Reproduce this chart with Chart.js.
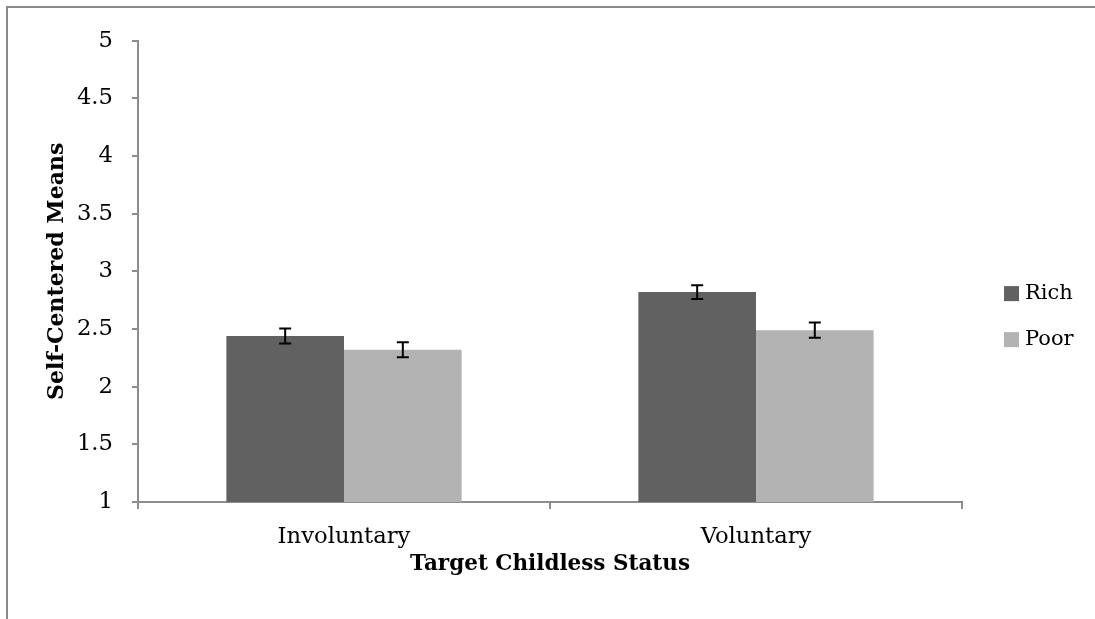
<!DOCTYPE html>
<html>
<head>
<meta charset="utf-8">
<script src="https://cdn.jsdelivr.net/npm/chart.js@4/dist/chart.umd.min.js"></script>
<style>
  html, body { margin: 0; padding: 0; background: #fff; width: 1095px; height: 619px; overflow: hidden; }
  #frame { position: absolute; left: 6px; top: 6px; border-left: 2px solid #8a8a8a; border-top: 2px solid #8a8a8a; }
  canvas { display: block; }
</style>
</head>
<body>
<div id="frame"><canvas id="chart" width="1087" height="611"></canvas></div>
<script>
// data
const categories = ["Involuntary", "Voluntary"];
const richMeans = [2.44, 2.82];
const poorMeans = [2.32, 2.49];
const richErrors = [0.065, 0.06];
const poorErrors = [0.065, 0.067];
const seriesNames = ["Rich", "Poor"];
const yMin = 1, yMax = 5, yStep = 0.5;

const FONT = "DejaVu Serif";
const AXIS_GREY = "#8d8d8d";
const errorsByDataset = [richErrors, poorErrors];

// error bars, drawn from the dataset values through the y scale
const errorBars = {
  id: "errorBars",
  afterDatasetsDraw(chart) {
    const ctx = chart.ctx;
    const y = chart.scales.y;
    ctx.save();
    ctx.strokeStyle = "#000";
    ctx.lineWidth = 2;
    chart.data.datasets.forEach((ds, i) => {
      const meta = chart.getDatasetMeta(i);
      meta.data.forEach((bar, j) => {
        const v = ds.data[j], e = errorsByDataset[i][j];
        const top = y.getPixelForValue(v + e);
        const bot = y.getPixelForValue(v - e);
        ctx.beginPath();
        ctx.moveTo(bar.x, top); ctx.lineTo(bar.x, bot);
        ctx.moveTo(bar.x - 6, top); ctx.lineTo(bar.x + 6, top);
        ctx.moveTo(bar.x - 6, bot); ctx.lineTo(bar.x + 6, bot);
        ctx.stroke();
      });
    });
    ctx.restore();
  }
};

// Excel-style legend to the right of the plot
const sideLegend = {
  id: "sideLegend",
  afterDraw(chart) {
    const ctx = chart.ctx;
    const area = chart.chartArea;
    ctx.save();
    ctx.font = "21px '" + FONT + "'";
    ctx.textBaseline = "middle";
    chart.data.datasets.forEach((ds, i) => {
      const cy = area.top + 253 + i * 46;
      const x = area.right + 42;
      ctx.fillStyle = ds.backgroundColor;
      ctx.fillRect(x, cy - 7.5, 15, 15);
      ctx.fillStyle = "#000";
      ctx.fillText(ds.label, x + 21, cy);
    });
    ctx.restore();
  }
};

new Chart(document.getElementById("chart"), {
  type: "bar",
  data: {
    labels: categories,
    datasets: [
      { label: seriesNames[0], data: richMeans, backgroundColor: "#616161" },
      { label: seriesNames[1], data: poorMeans, backgroundColor: "#b3b3b3" }
    ]
  },
  options: {
    responsive: false,
    animation: false,
    devicePixelRatio: 1,
    layout: { padding: { left: 0, top: 27, right: 133, bottom: 0 } },
    datasets: { bar: { categoryPercentage: 0.571, barPercentage: 1.0, borderWidth: 0 } },
    plugins: { legend: { display: false }, tooltip: { enabled: false } },
    scales: {
      x: {
        grid: { display: true, drawOnChartArea: false, offset: true, color: AXIS_GREY, lineWidth: 2, tickLength: 7 },
        border: { display: true, color: AXIS_GREY, width: 2 },
        ticks: { color: "#000", font: { family: FONT, size: 22.7 }, padding: 14, maxRotation: 0 },
        title: { display: true, text: "Target Childless Status", color: "#000",
                 font: { family: FONT, size: 21.5, weight: "bold" }, padding: { top: 0, bottom: 42 } },
        afterFit(scale) { scale.height = 117; }
      },
      y: {
        min: yMin, max: yMax,
        grid: { display: true, drawOnChartArea: false, color: AXIS_GREY, lineWidth: 2, tickLength: 6 },
        border: { display: true, color: AXIS_GREY, width: 2 },
        ticks: { stepSize: yStep, color: "#000", font: { family: FONT, size: 22.7 }, padding: 19,
                 callback: v => String(v) },
        title: { display: true, text: "Self-Centered Means", color: "#000",
                 font: { family: FONT, size: 22, weight: "bold" }, padding: { top: 36, bottom: 0 } },
        afterFit(scale) { scale.width = 130; }
      }
    }
  },
  plugins: [errorBars, sideLegend]
});
</script>
</body>
</html>
